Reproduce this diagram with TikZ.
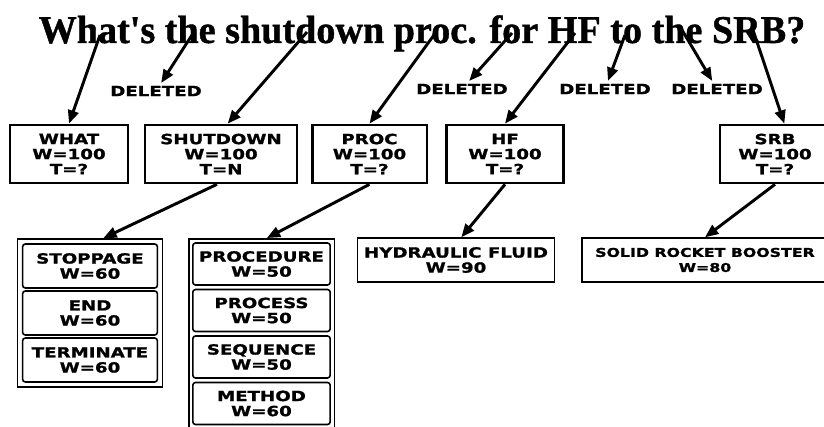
\documentclass[tikz,border=0pt]{standalone}
\usepackage{fontspec}
\usetikzlibrary{arrows.meta, positioning, fit}
\setmainfont{Liberation Serif}
\newfontfamily\boxfont{DejaVu Sans}[FakeStretch=1.3, FakeBold=1.2]
\newfontfamily\qfont{Liberation Serif}[FakeStretch=0.97, FakeBold=1]

\begin{document}
\begin{tikzpicture}[x=0.75pt, y=-0.75pt,
    arr/.style={-{Triangle[length=10pt, width=8pt]}, line width=2.2pt},
    boxtext/.style={align=center, inner sep=0pt, font=\boxfont\bfseries\fontsize{10.5}{11.3}\selectfont},
    wordbox/.style={boxtext, draw, line width=2pt, minimum height=43.5pt},
    synbox/.style={boxtext, draw, line width=1.2pt, rounded corners=2pt, minimum width=101pt, minimum height=33pt},
    grpbox/.style={draw, line width=1.2pt, inner sep=3.2pt},
    longbox/.style={boxtext, draw, line width=1pt, minimum height=33pt},
    delnote/.style={inner sep=2pt, font=\boxfont\bfseries\fontsize{10.5}{12}\selectfont},
    question/.style={anchor=base, inner sep=0pt, font=\qfont\bfseries\fontsize{29.5}{34}\selectfont}
]
\clip (0,0) rectangle (824,427);
\fill[white] (0,0) rectangle (824,427);

% Question
\node[question] (q) at (422,43) {What's the shutdown proc. for HF to the SRB?};
\coordinate (qwhat)  at (100,35);
\coordinate (qthe)   at (192,35);
\coordinate (qshut)  at (307,32);
\coordinate (qproc)  at (434,35);
\coordinate (qfor)   at (512,33);
\coordinate (qhf)    at (575,33);
\coordinate (qto)    at (625,35);
\coordinate (qthetwo) at (682,30);
\coordinate (qsrb)   at (752,27);

% Deleted words
\node[delnote] (del1) at (156,91) {DELETED};
\node[delnote] (del2) at (462,89) {DELETED};
\node[delnote] (del3) at (605,89) {DELETED};
\node[delnote] (del4) at (717,89) {DELETED};

% Row 1
\node[wordbox, minimum width=88.5pt] (what) at (69,154) {WHAT\\W=100\\T=?};
\node[wordbox, minimum width=114pt] (shut) at (221,154) {SHUTDOWN\\W=100\\T=N};
\node[wordbox, minimum width=86pt] (proc) at (369.5,154) {PROC\\W=100\\T=?};
\node[wordbox, minimum width=88pt] (hf) at (505,154) {HF\\W=100\\T=?};
\node[wordbox, minimum width=82.5pt] (srb) at (775,154) {SRB\\W=100\\T=?};

% Row 2
\node[synbox] (stop) at (90,266) {STOPPAGE\\W=60};
\node[synbox] (end) at (90,313) {END\\W=60};
\node[synbox] (term) at (90,360) {TERMINATE\\W=60};
\node[grpbox, fit=(stop)(term)] (grpa) {};

\node[synbox, minimum width=103pt, minimum height=31.5pt] (procd) at (261.5,264) {PROCEDURE\\W=50};
\node[synbox, minimum width=103pt, minimum height=31.5pt] (procs) at (261.5,310.5) {PROCESS\\W=50};
\node[synbox, minimum width=103pt, minimum height=31.5pt] (seq) at (261.5,357) {SEQUENCE\\W=50};
\node[synbox, minimum width=103pt, minimum height=31.5pt] (meth) at (261.5,403.5) {METHOD\\W=60};
\node[grpbox, inner sep=2.5pt, fit=(procd)(meth)] (grpb) {};

\node[longbox, minimum width=148pt] (hfl) at (456,260) {HYDRAULIC FLUID\\W=90};
\node[longbox, minimum width=184.5pt, font=\boxfont\bfseries\fontsize{9.1}{11.3}\selectfont] (srbl) at (705,260) {SOLID ROCKET BOOSTER\\W=80};

% Arrows
\draw[arr] (qwhat) -- (what.north);
\draw[arr] (qthe) -- (del1);
\draw[arr] (qshut) -- ([xshift=5pt]shut.north);
\draw[arr] (qproc) -- (proc.north);
\draw[arr] (qfor) -- (del2);
\draw[arr] (qhf) -- (hf.north);
\draw[arr] (qto) -- (del3);
\draw[arr] (qthetwo) -- (del4);
\draw[arr] (qsrb) -- ([xshift=7pt]srb.north);

\draw[arr] ([xshift=-3pt]shut.south) -- ([xshift=10pt]grpa.north);
\draw[arr] (proc.south) -- ([xshift=4pt]grpb.north);
\draw[arr] (hf.south) -- ([xshift=4pt]hfl.north);
\draw[arr] (srb.south) -- (srbl.north);
\end{tikzpicture}
\end{document}
